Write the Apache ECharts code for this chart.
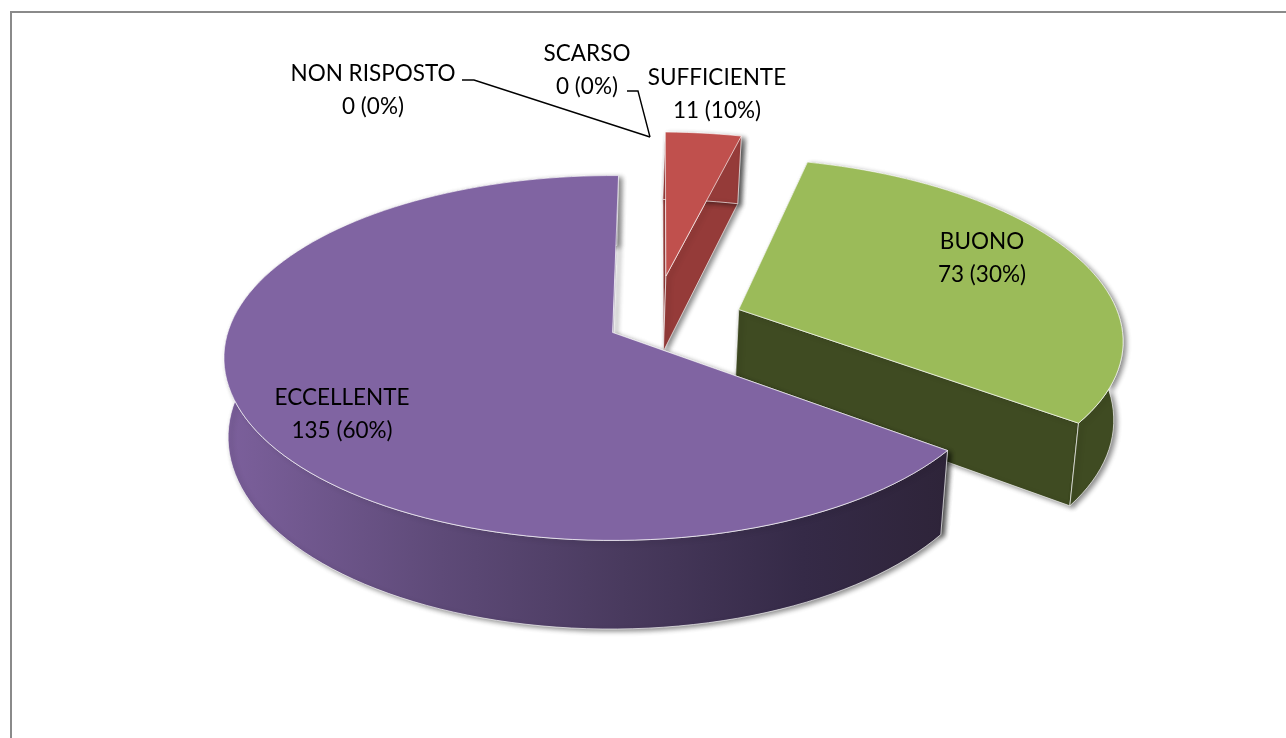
<!DOCTYPE html>
<html><head><meta charset="utf-8">
<style>html,body{margin:0;padding:0;background:#fff}#c{width:1286px;height:738px}</style>
<script src="https://cdn.jsdelivr.net/npm/echarts@6/dist/echarts.min.js"></script>
</head><body><div id="c"></div>
<script>
// ---- data ----
const categories = ['NON RISPOSTO', 'SCARSO', 'SUFFICIENTE', 'BUONO', 'ECCELLENTE'];
const counts = [0, 0, 11, 73, 135];            // as printed in the labels
const percentLabels = ['0%', '0%', '10%', '30%', '60%']; // as printed in the labels
// Share of the circle each drawn slice actually covers.
// The reference's slices follow neither its printed counts nor its printed percents.
const sliceShare = [0, 0, 3.75, 31.3, 64.95];

// ---- presentation ----
const startAngle = 1;
const explode = [0, 0, 0.28, 0.24, 0.119];
const labelAt = [[373, 90], [587, 70], [717, 94], [982, 258], [342, 414]];
const leaders = [
  [[462, 80], [474, 80], [650, 137]],
  [[627, 91], [638, 91], [650, 137]],
  null, null, null
];
const topColor = ['#fff', '#fff', '#C0504D', '#9BBB59', '#8064A2'];
const wallColor = [
  '#fff', '#fff', '#953B39', '#3F4B22',
  new echarts.graphic.LinearGradient(0, 0, 1, 0, [
    { offset: 0, color: '#7C609C' }, { offset: 0.3, color: '#5E4A78' },
    { offset: 0.55, color: '#493A5E' }, { offset: 0.8, color: '#352A47' },
    { offset: 1, color: '#2E2439' }
  ])
];

// ---- pie projection: plane (u,v) -> screen with perspective ----
const CX = 613, CY = 333, F = 385, KF = 179, P = 0.14, HEIGHT = 78;
const O = [0.106, 0.055];
const VANISH_X = 500, BOTTOM_SCALE = 0.985;
function projTop(u, v) {
  const w = 1 + P * v;
  return [CX + F * u / w, CY - KF * v / w, 1 / w];
}
function projBottom(u, v) {
  const p = projTop(u, v);
  return [VANISH_X + (p[0] - VANISH_X) * BOTTOM_SCALE, p[1] + HEIGHT * Math.pow(p[2], 0.85)];
}
const rad = d => d * Math.PI / 180;

function renderItem(params, api) {
  const i = params.dataIndex;
  const children = [];
  const share = api.value(2);
  let before = 0;
  for (let k = 0; k < i; k++) before += sliceShare[k];
  if (share > 0) {
    const a0 = startAngle + before / 100 * 360, a1 = a0 + share / 100 * 360;
    const bis = rad((a0 + a1) / 2);
    const ou = O[0] + explode[i] * Math.sin(bis), ov = O[1] + explode[i] * Math.cos(bis);
    const rim = [];
    const n = Math.ceil((a1 - a0) / 2);
    for (let s = 0; s <= n; s++) {
      const a = rad(a0 + (a1 - a0) * s / n);
      rim.push([ou + Math.sin(a), ov + Math.cos(a)]);
    }
    const edge = { stroke: 'rgba(255,255,255,0.65)', lineWidth: 1 };
    const shadow = { shadowBlur: 5, shadowColor: 'rgba(0,0,0,0.45)', shadowOffsetX: 3, shadowOffsetY: 2 };
    const wall = pts => ({
      type: 'polygon', shape: { points: pts },
      style: Object.assign({ fill: wallColor[i] }, edge, shadow)
    });
    // radial walls
    const first = rim[0], last = rim[rim.length - 1];
    [first, last].forEach(q => children.push(wall([
      projTop(ou, ov), projTop(q[0], q[1]), projBottom(q[0], q[1]), projBottom(ou, ov)
    ].map(p => [p[0], p[1]]))));
    // outer wall
    const outer = rim.map(q => projTop(q[0], q[1]).slice(0, 2))
      .concat(rim.slice().reverse().map(q => projBottom(q[0], q[1])));
    children.push(wall(outer));
    // top
    const top = [projTop(ou, ov).slice(0, 2)].concat(rim.map(q => projTop(q[0], q[1]).slice(0, 2)));
    children.push({
      type: 'polygon', shape: { points: top },
      style: Object.assign({ fill: topColor[i] }, edge)
    });
  }
  if (leaders[i]) {
    children.push({
      type: 'polyline', shape: { points: leaders[i] },
      style: { fill: null, stroke: '#000', lineWidth: 1.4 }
    });
  }
  children.push({
    type: 'text', x: labelAt[i][0], y: labelAt[i][1],
    style: {
      text: categories[i] + '\n' + api.value(1) + ' (' + percentLabels[i] + ')',
      fill: '#000', font: '22.5px Lato', align: 'center', verticalAlign: 'middle', lineHeight: 33
    }
  });
  return { type: 'group', children };
}

const chart = echarts.init(document.getElementById('c'), null, { renderer: 'canvas' });
chart.setOption({
  animation: false,
  backgroundColor: '#fff',
  graphic: [{
    type: 'polyline', silent: true, z: 0,
    shape: { points: [[11, 738], [11, 12], [1286, 12]] },
    style: { fill: null, stroke: '#8A8A8A', lineWidth: 2 }
  }],
  series: [{
    type: 'custom',
    coordinateSystem: 'none',
    renderItem,
    data: categories.map((c, i) => [c, counts[i], sliceShare[i]]),
    z: 2
  }]
});
</script></body></html>
